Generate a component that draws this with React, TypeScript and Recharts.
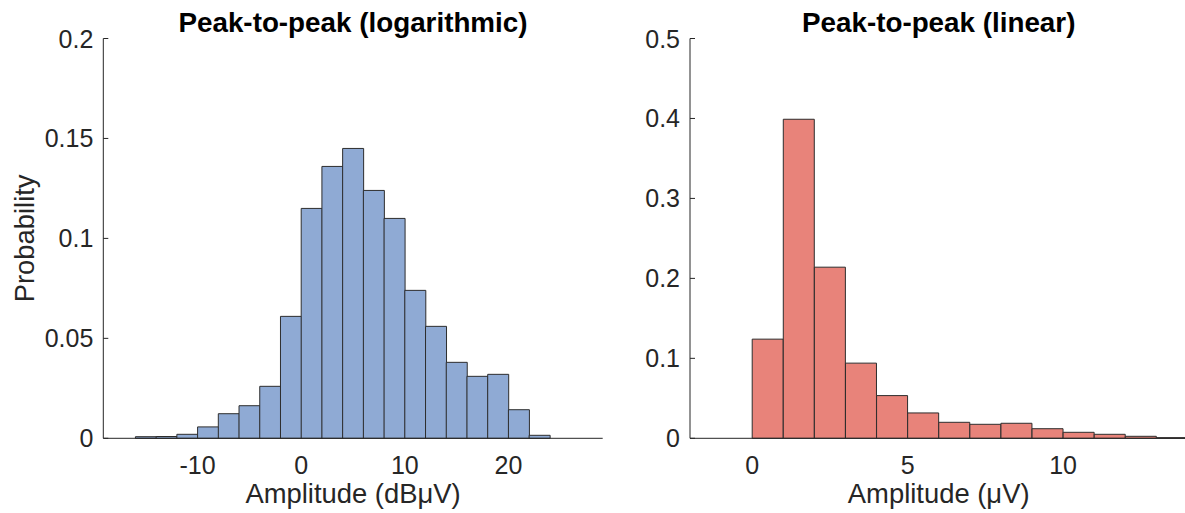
import React from 'react';
import { BarChart, Bar, XAxis, YAxis } from 'recharts';

// Histogram of peak-to-peak amplitude on a dB scale (bins of 2 dBµV, centred)
const logBinCenters = [-15, -13, -11, -9, -7, -5, -3, -1, 1, 3, 5, 7, 9, 11, 13, 15, 17, 19, 21, 23];
const logProbability = [
  0.0008, 0.0009, 0.002, 0.0057, 0.0123, 0.0163, 0.026, 0.061, 0.115, 0.136,
  0.145, 0.124, 0.11, 0.074, 0.056, 0.038, 0.031, 0.032, 0.0143, 0.0015,
];
const logXTicks = [-10, 0, 10, 20];
const logYTicks = [0, 0.05, 0.1, 0.15, 0.2];

// Histogram of peak-to-peak amplitude on a linear scale (bins of 1 µV, centred)
const linBinCenters = [0.5, 1.5, 2.5, 3.5, 4.5, 5.5, 6.5, 7.5, 8.5, 9.5, 10.5, 11.5, 12.5, 13.5];
const linProbability = [
  0.124, 0.399, 0.214, 0.094, 0.0534, 0.0317, 0.02, 0.0175, 0.0188, 0.012, 0.0075, 0.005, 0.0025, 0.0008,
];
const linXTicks = [0, 5, 10];
const linYTicks = [0, 0.1, 0.2, 0.3, 0.4, 0.5];

const logData = logBinCenters.map((x, i) => ({ x, p: logProbability[i] }));
const linData = linBinCenters.map((x, i) => ({ x, p: linProbability[i] }));

const FONT = '"Liberation Sans", Arial, Helvetica, sans-serif';
const INK = '#262626';
const Y_TICK_MARGIN = 10;

// y tick: label to the left, short tick mark pointing into the plot
const YTick = (props: any) => {
  const { x, y, payload } = props;
  const ax = x + Y_TICK_MARGIN;
  return (
    <g>
      <line x1={ax} x2={ax + 5} y1={y} y2={y} stroke={INK} strokeWidth={1} />
      <text
        x={x}
        y={y}
        dy="0.36em"
        textAnchor="end"
        fontSize={25}
        fontFamily={FONT}
        fill={INK}
      >
        {String(payload.value)}
      </text>
    </g>
  );
};

const TOP = 38.5;
const X_AXIS_H = 74.7;
const CH = 513;

function Histogram(props: {
  data: { x: number; p: number }[];
  xDomain: [number, number];
  xTicks: number[];
  yDomain: [number, number];
  yTicks: number[];
  fill: string;
  width: number;
  yAxisWidth: number;
  marginRight: number;
}) {
  const { data, xDomain, xTicks, yDomain, yTicks, fill, width, yAxisWidth, marginRight } = props;
  return (
    <BarChart
      width={width}
      height={CH}
      data={data}
      margin={{ top: TOP, right: marginRight, bottom: 0, left: 0 }}
      barCategoryGap={0}
      barGap={0}
    >
      <XAxis
        dataKey="x"
        type="number"
        domain={xDomain}
        ticks={xTicks}
        allowDataOverflow
        height={X_AXIS_H}
        tickLine={false}
        tickSize={0}
        tickMargin={18}
        axisLine={{ stroke: INK, strokeWidth: 1 }}
        tick={{ fontSize: 25, fontFamily: FONT, fill: INK }}
        interval={0}
      />
      <YAxis
        type="number"
        domain={yDomain}
        ticks={yTicks}
        width={yAxisWidth}
        tickLine={false}
        tickSize={0}
        tickMargin={Y_TICK_MARGIN}
        axisLine={{ stroke: INK, strokeWidth: 1 }}
        tick={<YTick />}
        interval={0}
      />
      <Bar
        dataKey="p"
        fill={fill}
        stroke="#2d2d2d"
        strokeWidth={1}
        isAnimationActive={false}
      />
    </BarChart>
  );
}

const titleStyle: React.CSSProperties = {
  fontFamily: FONT,
  fontWeight: 'bold',
  fontSize: 27.8,
  fill: '#000',
};
const labelStyle: React.CSSProperties = {
  fontFamily: FONT,
  fontSize: 27.4,
  fill: INK,
};

export default function App() {
  return (
    <div
      style={{
        position: 'fixed',
        left: 0,
        top: 0,
        width: 1185,
        height: 513,
        overflow: 'hidden',
        background: '#fff',
      }}
    >
      <div style={{ position: 'absolute', left: 0, top: 0 }}>
        <Histogram
          data={logData}
          xDomain={[-19.1, 29.1]}
          xTicks={logXTicks}
          yDomain={[0, 0.2]}
          yTicks={logYTicks}
          fill="#8FAAD4"
          width={640}
          yAxisWidth={103.3}
          marginRight={37.3}
        />
      </div>
      <div style={{ position: 'absolute', left: 600, top: 0 }}>
        <Histogram
          data={linData}
          xDomain={[-2, 14]}
          xTicks={linXTicks}
          yDomain={[0, 0.5]}
          yTicks={linYTicks}
          fill="#E8837A"
          width={600}
          yAxisWidth={90}
          marginRight={12.5}
        />
      </div>
      <svg
        width={1185}
        height={513}
        style={{ position: 'absolute', left: 0, top: 0, pointerEvents: 'none' }}
      >
        <text x={353} y={32} textAnchor="middle" style={titleStyle}>
          Peak-to-peak (logarithmic)
        </text>
        <text x={938.7} y={32} textAnchor="middle" style={titleStyle}>
          Peak-to-peak (linear)
        </text>
        <text x={353} y={503} textAnchor="middle" style={labelStyle}>
          Amplitude (dBμV)
        </text>
        <text x={938.7} y={503} textAnchor="middle" style={labelStyle}>
          Amplitude (μV)
        </text>
        <text
          x={0}
          y={0}
          textAnchor="middle"
          transform="translate(34 238.4) rotate(-90)"
          style={labelStyle}
        >
          Probability
        </text>
      </svg>
    </div>
  );
}
